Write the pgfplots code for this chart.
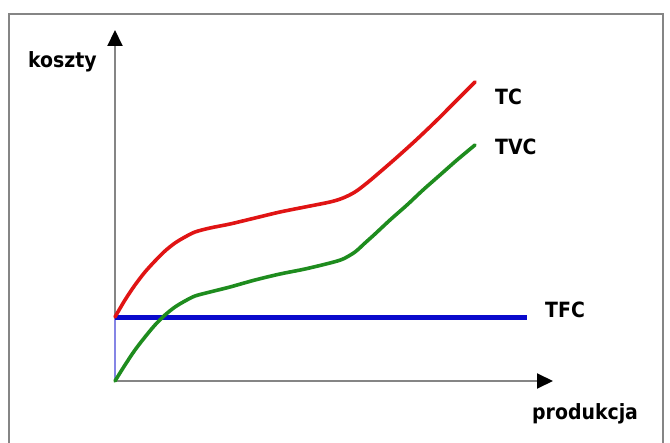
\documentclass[border=0pt]{standalone}
\usepackage{pgfplots}
\pgfplotsset{compat=1.18}
\usetikzlibrary{arrows.meta}
\usepackage{fontspec}
\setmainfont{DejaVuSansCondensed-Bold.ttf}

\definecolor{tcred}{HTML}{E01414}
\definecolor{tvcgreen}{HTML}{1E8C1E}
\definecolor{tfcblue}{HTML}{0A0ACC}
\definecolor{axgray}{HTML}{858585}

\begin{document}
\begin{tikzpicture}
% whole picture: 670 x 443 px, axis origin at pixel (115,381)
\useasboundingbox (-115bp,-62bp) rectangle (555bp,381bp);
\begin{axis}[
    at={(0,0)}, anchor=south west,
    scale only axis,
    width=438bp, height=351bp,
    xmin=0, xmax=438,
    ymin=0, ymax=351,
    axis lines=left,
    axis line style={draw=axgray, line width=2bp,
        -{Triangle[length=16bp,width=15bp,color=black]}},
    xtick=\empty, ytick=\empty,
    clip=false,
    every axis plot/.append style={line cap=round, line join=round},
    font=\fontsize{21bp}{26bp}\selectfont,
]

% frame
\draw[axgray, line width=1.5bp] (axis cs:-106,-90) rectangle (axis cs:548,367);

% TFC
\addplot[tfcblue!50, line width=1.2bp] coordinates {(0,0) (0,63)};
\addplot[tfcblue, line width=5bp, line cap=butt] coordinates {(0,63) (412,63)};

% TC
\addplot[tcred, line width=3.6bp, smooth, tension=0.5] coordinates {
    (0,64) (10,81) (20,96) (30,109) (40,120) (50,130) (60,138)
    (70,144) (80,149) (95,153) (115,157) (140,163) (165,169)
    (190,174) (215,179) (228,183) (240,189) (252,198) (265,209)
    (280,222) (300,240) (320,259) (340,279) (360,299)
};

% TVC
\addplot[tvcgreen, line width=3.6bp, smooth, tension=0.5] coordinates {
    (0,0) (10,16) (20,31) (30,44) (40,56) (50,66) (60,74) (70,80)
    (80,85) (95,89) (115,94) (140,101) (165,107) (190,112) (215,118)
    (228,122) (240,129) (250,138) (260,147) (275,161) (292,176)
    (308,191) (325,206) (342,221) (360,236)
};

\node[anchor=base west, inner sep=0pt] at (axis cs:-87,313) {koszty};
\node[anchor=base west, inner sep=0pt] at (axis cs:417,-38) {produkcja};
\node[anchor=base west, inner sep=0pt] at (axis cs:380,276) {TC};
\node[anchor=base west, inner sep=0pt] at (axis cs:380,226) {TVC};
\node[anchor=base west, inner sep=0pt] at (axis cs:430,64) {TFC};
\end{axis}
\end{tikzpicture}
\end{document}
